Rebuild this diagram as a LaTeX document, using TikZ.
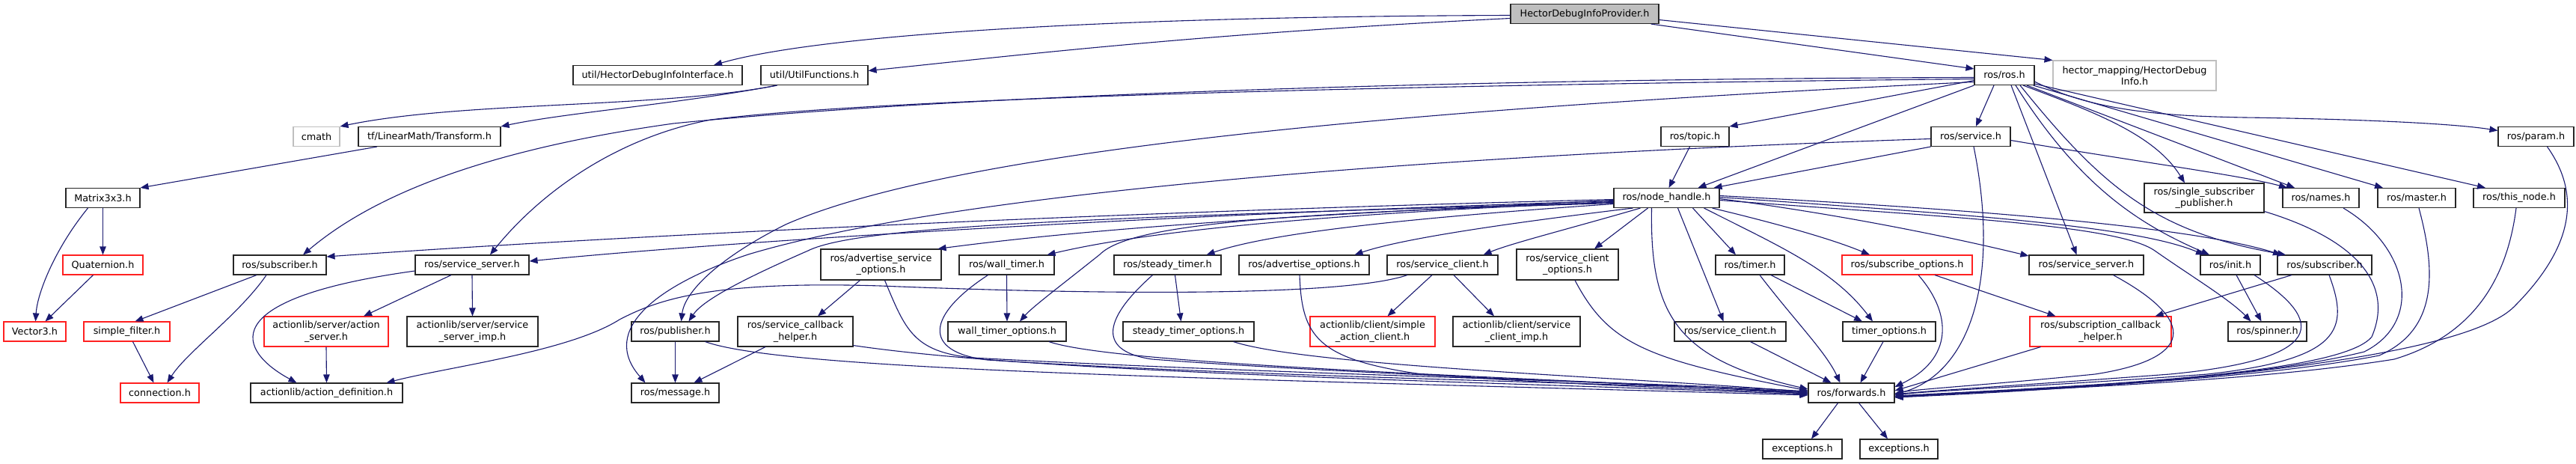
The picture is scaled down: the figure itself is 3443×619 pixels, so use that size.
\documentclass[tikz,border=0pt]{standalone}
\usepackage{fontspec}
\setmainfont{DejaVu Sans}
\usetikzlibrary{arrows.meta}
\definecolor{edgec}{HTML}{191970}
\definecolor{grayb}{HTML}{BFBFBF}
\definecolor{redb}{HTML}{FF2020}
\newcommand{\dfont}{\fontsize{12.8}{15.3}\selectfont}
\begin{document}
\begin{tikzpicture}[x=1pt,y=-1pt,
 box/.style={draw=black!85, line width=1.1pt, fill=white, rectangle, inner sep=0pt, minimum height=26pt, align=center, font=\dfont},
 box2/.style={box, minimum height=40pt},
 redbox/.style={draw=redb},
 graybox/.style={draw=grayb},
 edge/.style={draw=edgec, line width=1.1pt, -{Triangle[length=11pt,width=8.5pt]}}]
\useasboundingbox[fill=white] (0,0) rectangle (3443,619);

% row 0
\node[box, fill=grayb, minimum width=198pt] (top) at (2118,18.5) {HectorDebugInfoProvider.h};
% row 1
\node[box, minimum width=226pt] (hdi) at (879,100.5) {util/HectorDebugInfoInterface.h};
\node[box, minimum width=143pt] (uf) at (1088.5,100.5) {util/UtilFunctions.h};
\node[box, minimum width=80pt] (ros) at (2679,100.5) {ros/ros.h};
\node[box2, graybox, minimum width=218pt] (hm) at (2853,101) {hector\_mapping/HectorDebug\\Info.h};
% row 2
\node[box, graybox, minimum width=62pt] (cmath) at (423,182.5) {cmath};
\node[box, minimum width=190pt] (tf) at (574,182.5) {tf/LinearMath/Transform.h};
\node[box, minimum width=91pt] (topic) at (2265.5,182.5) {ros/topic.h};
\node[box, minimum width=106pt] (service) at (2634,182.5) {ros/service.h};
\node[box, minimum width=101pt] (param) at (3389.5,182.5) {ros/param.h};
% row 3
\node[box, minimum width=99pt] (m33) at (137.5,264.5) {Matrix3x3.h};
\node[box, minimum width=141pt] (nh) at (2227.5,264.5) {ros/node\_handle.h};
\node[box2, minimum width=160pt, minimum height=39pt] (ssp) at (2946,264.5) {ros/single\_subscriber\\\_publisher.h};
\node[box, minimum width=102pt] (names) at (3102,264.5) {ros/names.h};
\node[box, minimum width=104pt] (master) at (3230,264.5) {ros/master.h};
\node[box, minimum width=122pt] (thisnode) at (3367,264.5) {ros/this\_node.h};
% row 4
\node[box, redbox, minimum width=107pt] (quat) at (137.5,354) {Quaternion.h};
\node[box, minimum width=124pt] (subL) at (374,354) {ros/subscriber.h};
\node[box, minimum width=152pt] (ssL) at (631,354) {ros/service\_server.h};
\node[box2, minimum width=161pt, minimum height=41pt] (aso) at (1177.5,353.5) {ros/advertise\_service\\\_options.h};
\node[box, minimum width=127pt] (wt) at (1345.5,354) {ros/wall\_timer.h};
\node[box, minimum width=143pt] (st) at (1560.5,354) {ros/steady\_timer.h};
\node[box, minimum width=174pt] (ao) at (1743,354) {ros/advertise\_options.h};
\node[box, minimum width=148pt] (sc) at (1928,354) {ros/service\_client.h};
\node[box2, minimum width=136pt, minimum height=41pt] (sco) at (2095,353.5) {ros/service\_client\\\_options.h};
\node[box, minimum width=92pt] (timer) at (2339,354) {ros/timer.h};
\node[box, redbox, minimum width=174pt] (so) at (2549,354) {ros/subscribe\_options.h};
\node[box, minimum width=153pt] (ssR) at (2788.5,354) {ros/service\_server.h};
\node[box, minimum width=80pt] (init) at (2981,354) {ros/init.h};
\node[box, minimum width=126pt] (subR) at (3107,354) {ros/subscriber.h};
% row 5
\node[box, redbox, minimum width=83pt] (v3) at (46.5,443) {Vector3.h};
\node[box, redbox, minimum width=115pt] (sf) at (169.5,443) {simple\_filter.h};
\node[box2, redbox, minimum width=166pt] (asrv) at (436,443) {actionlib/server/action\\\_server.h};
\node[box2, minimum width=175pt] (assi) at (631.5,443) {actionlib/server/service\\\_server\_imp.h};
\node[box, minimum width=117pt] (pub) at (902.5,443) {ros/publisher.h};
\node[box2, minimum width=154pt] (sch) at (1063,443) {ros/service\_callback\\\_helper.h};
\node[box, minimum width=158pt] (wto) at (1346,443) {wall\_timer\_options.h};
\node[box, minimum width=175pt] (sto) at (1588.5,443) {steady\_timer\_options.h};
\node[box2, redbox, minimum width=167pt] (sac) at (1834.5,443) {actionlib/client/simple\\\_action\_client.h};
\node[box2, minimum width=170pt] (aci) at (2027,443) {actionlib/client/service\\\_client\_imp.h};
\node[box, minimum width=149pt] (sc2) at (2312.5,443) {ros/service\_client.h};
\node[box, minimum width=124pt] (to) at (2525,443) {timer\_options.h};
\node[box2, redbox, minimum width=189pt] (sch2) at (2807.5,443) {ros/subscription\_callback\\\_helper.h};
\node[box, minimum width=105pt] (spin) at (3030.5,443) {ros/spinner.h};
% row 6
\node[box, redbox, minimum width=105pt] (conn) at (213.5,525) {connection.h};
\node[box, minimum width=203pt] (adef) at (436.5,525) {actionlib/action\_definition.h};
\node[box, minimum width=117pt] (msg) at (902.5,525) {ros/message.h};
\node[box, minimum width=115pt] (fwd) at (2474.5,525) {ros/forwards.h};
% row 7
\node[box, minimum width=106pt] (ex1) at (2409,600) {exceptions.h};
\node[box, minimum width=104pt] (ex2) at (2538,600) {exceptions.h};

% ---- edges from top
\draw[edge] ([yshift=-2pt]top.west) .. controls (1500,22) and (1100,45) .. ([xshift=75pt]hdi.north);
\draw[edge] ([yshift=-6pt]top.west) .. controls (1600,45) and (1350,75) .. ([yshift=6pt]uf.east);
\draw[edge] ([xshift=-11pt]top.south east) -- ([yshift=-5pt]ros.north west);
\draw[edge] ([yshift=-8pt]top.east) -- (hm.north west);
% util
\draw[edge] ([xshift=-50pt]uf.south) .. controls (880,145) and (620,135) .. (cmath.north east);
\draw[edge] ([xshift=-50pt]uf.south) .. controls (900,140) and (760,150) .. (tf.north east);
\draw[edge] ([xshift=-70pt]tf.south) -- (m33.north east);
\draw[edge] ([xshift=-20pt]m33.south) .. controls (75,330) and (50,390) .. ([xshift=1pt]v3.north);
\draw[edge] (m33.south) -- (quat.north);
\draw[edge] ([xshift=-13pt]quat.south) -- ([xshift=14pt]v3.north);
% ros/ros.h
\draw[edge] ([yshift=-7pt]ros.west) -- (topic.north east);
\draw[edge] (ros.south west) -- ([xshift=42pt]nh.north);
\draw[edge] ([xshift=-14pt]ros.south) -- ([xshift=7pt]service.north);
\draw[edge] ([yshift=-3pt]ros.west) .. controls (2000,105) and (1300,125) .. (900,165) .. controls (650,200) and (500,260) .. ([xshift=31pt]subL.north);
\draw[edge] ([yshift=-5pt]ros.west) .. controls (2000,112) and (1200,128) .. (950,160) .. controls (820,185) and (720,260) .. ([xshift=24pt]ssL.north);
\draw[edge] ([yshift=-9pt]ros.west) .. controls (2000,140) and (1300,190) .. (1050,300) .. controls (960,345) and (915,390) .. ([xshift=8pt]pub.north);
\draw[edge] ([xshift=9pt]ros.south) -- ([xshift=-13pt]ssR.north);
\draw[edge] ([xshift=15pt]ros.south) .. controls (2780,250) and (2860,300) .. ([xshift=-28pt]init.north);
\draw[edge] ([xshift=21pt]ros.south) .. controls (2810,250) and (2880,310) .. ([xshift=-52pt]subR.north);
\draw[edge] ([xshift=25pt]ros.south) .. controls (2800,150) and (2880,180) .. ([xshift=-26pt]ssp.north);
\draw[edge] ([xshift=30pt]ros.south) -- ([xshift=-35pt]names.north);
\draw[edge] ([xshift=-2pt]ros.south east) -- ([xshift=-45pt]master.north);
\draw[edge] ([yshift=2pt]ros.south east) -- ([xshift=-45pt]thisnode.north);
\draw[edge] ([yshift=5pt]ros.south east) .. controls (2800,150) and (2900,155) .. (3000,157) .. controls (3150,159) and (3280,165) .. ([yshift=8pt]param.west);
% ros/service.h
\draw[edge] (service.south west) -- ([xshift=-8pt]nh.north east);
\draw[edge] ([yshift=-5pt]service.east) .. controls (2850,215) and (3000,235) .. ([xshift=-45pt]names.north);
\draw[edge] ([yshift=-3pt]service.west) .. controls (2000,205) and (1300,250) .. (1000,340) .. controls (880,380) and (800,440) .. ([xshift=-40pt]msg.north);
\draw[edge] ([xshift=4pt]service.south) .. controls (2675,380) and (2630,500) .. ([yshift=-2pt]fwd.east);
\draw[edge] ([xshift=-7pt]topic.south) -- ([xshift=3pt]nh.north);
% ros/node_handle.h to the left
\draw[edge] ([yshift=-2pt]nh.west) .. controls (1600,280) and (900,310) .. ([yshift=11pt]subL.east);
\draw[edge] ([yshift=-4pt]nh.west) .. controls (1600,285) and (1000,320) .. ([yshift=5pt]ssL.east);
\draw[edge] ([yshift=-6pt]nh.west) .. controls (1500,290) and (1150,300) .. (1080,335) .. controls (1000,370) and (940,400) .. ([xshift=18pt]pub.north);
\draw[edge] ([yshift=-3pt]nh.west) .. controls (1800,285) and (1500,300) .. ([xshift=-5pt]aso.north east);
\draw[edge] ([yshift=-5pt]nh.west) .. controls (1800,285) and (1550,305) .. ([xshift=-10pt]wt.north east);
\draw[edge] ([yshift=-7pt]nh.west) .. controls (1700,285) and (1510,300) .. (1470,340) .. controls (1420,380) and (1380,410) .. ([xshift=17pt]wto.north);
\draw[edge] ([yshift=-8pt]nh.west) .. controls (1900,290) and (1700,310) .. ([xshift=-20pt]st.north east);
\draw[edge] ([xshift=-45pt]nh.south) .. controls (2000,300) and (1870,320) .. ([xshift=-20pt]ao.north east);
\draw[edge] ([xshift=-35pt]nh.south) .. controls (2100,305) and (2020,325) .. ([xshift=-20pt]sc.north east);
\draw[edge] ([xshift=-25pt]nh.south) -- ([xshift=36pt]sco.north);
% ros/node_handle.h downward/right
\draw[edge] ([xshift=35pt]nh.south) -- ([xshift=-19pt]timer.north);
\draw[edge] ([xshift=15pt]nh.south) -- ([xshift=-9pt]sc2.north);
\draw[edge] ([xshift=50pt]nh.south) .. controls (2380,330) and (2450,360) .. ([xshift=-22pt]to.north);
\draw[edge] ([xshift=-10pt]nh.south east) .. controls (2380,300) and (2450,320) .. ([xshift=-50pt]so.north);
\draw[edge] ([yshift=-1pt]nh.east) .. controls (2450,285) and (2600,315) .. ([yshift=12pt]ssR.west);
\draw[edge] ([yshift=1pt]nh.east) .. controls (2600,285) and (2850,300) .. ([xshift=-35pt]init.north);
\draw[edge] ([yshift=3pt]nh.east) .. controls (2600,278) and (2920,300) .. ([xshift=-58pt]subR.north);
\draw[edge] ([yshift=-3pt]nh.east) .. controls (2600,290) and (2830,300) .. (2880,335) .. controls (2930,370) and (2980,400) .. ([xshift=-22pt]spin.north);
\draw[edge] ([xshift=-20pt]nh.south) .. controls (2205,420) and (2240,480) .. ([yshift=5pt]fwd.west);
% left cluster
\draw[edge] ([xshift=-31pt]subL.south) -- ([xshift=11pt]sf.north);
\draw[edge] ([xshift=-18pt]subL.south) .. controls (320,420) and (250,470) .. ([xshift=10pt]conn.north);
\draw[edge] ([xshift=8pt]sf.south) -- ([xshift=-8pt]conn.north);
\draw[edge] ([xshift=-28pt]ssL.south) -- ([xshift=50pt]asrv.north);
\draw[edge] (ssL.south) -- (assi.north);
\draw[edge] ([yshift=-8pt]ssL.west) .. controls (280,400) and (320,470) .. ([xshift=-40pt]adef.north);
\draw[edge] (asrv.south) -- (adef.north);
\draw[edge] ([xshift=-47pt]sc.south) .. controls (1800,395) and (1500,395) .. (1177,382) .. controls (950,375) and (880,400) .. (828,427) .. controls (760,470) and (600,490) .. ([xshift=80pt]adef.north);
\draw[edge] ([xshift=-14pt]sc.south) -- ([xshift=20pt]sac.north);
\draw[edge] ([xshift=15pt]sc.south) -- ([xshift=-30pt]aci.north);
\draw[edge] ([xshift=-28pt]aso.south) -- ([xshift=30pt]sch.north);
\draw[edge] (pub.south) -- (msg.north);
\draw[edge] ([xshift=-40pt]sch.south) -- ([xshift=25pt]msg.north);
\draw[edge] (wt.south) -- (wto.north);
\draw[edge] ([xshift=10pt]st.south) -- ([xshift=-10pt]sto.north);
% into forwards from the left
\draw[edge] ([xshift=5pt]aso.south) .. controls (1210,440) and (1220,470) .. (1300,478) .. controls (1700,500) and (2200,510) .. ([yshift=2pt]fwd.west);
\draw[edge] ([xshift=-25pt]wt.south) .. controls (1240,420) and (1230,470) .. (1320,481) .. controls (1700,505) and (2200,512) .. ([yshift=1pt]fwd.west);
\draw[edge] ([xshift=-20pt]st.south) .. controls (1470,430) and (1470,470) .. (1540,480) .. controls (1800,500) and (2200,512) .. ([yshift=0pt]fwd.west);
\draw[edge] ([xshift=-6pt]ao.south) .. controls (1740,450) and (1760,480) .. (1900,500) .. controls (2100,515) and (2300,520) .. ([yshift=-1pt]fwd.west);
\draw[edge] ([xshift=10pt]sco.south) .. controls (2150,460) and (2200,480) .. ([yshift=3pt]fwd.west);
\draw[edge] ([xshift=40pt]pub.south) .. controls (1050,495) and (1600,505) .. ([yshift=-3pt]fwd.west);
\draw[edge] ([yshift=2pt]sch.south east) .. controls (1400,500) and (2000,510) .. ([yshift=-2pt]fwd.west);
\draw[edge] ([xshift=56pt]wto.south) .. controls (1500,490) and (2100,505) .. ([yshift=-1pt]fwd.west);
\draw[edge] ([xshift=60pt]sto.south) .. controls (1750,490) and (2200,505) .. ([yshift=1pt]fwd.west);
% lower middle
\draw[edge] ([xshift=28pt]timer.south) -- ([xshift=-36pt]to.north);
\draw[edge] ([xshift=13pt]timer.south) .. controls (2400,430) and (2440,470) .. ([xshift=-15pt]fwd.north);
\draw[edge] ([xshift=27pt]sc2.south) -- ([xshift=-27pt]fwd.north);
\draw[edge] ([xshift=-8pt]to.south) -- ([xshift=12pt]fwd.north);
\draw[edge] ([xshift=37pt]so.south) -- ([xshift=-60pt]sch2.north);
\draw[edge] ([xshift=15pt]so.south) .. controls (2610,420) and (2610,480) .. ([yshift=8pt]fwd.east);
\draw[edge] ([xshift=36pt]ssR.south) .. controls (2940,430) and (2930,480) .. (2800,500) .. controls (2650,515) and (2560,520) .. ([yshift=-1pt]fwd.east);
\draw[edge] ([xshift=8pt]init.south) -- ([xshift=-8pt]spin.north);
\draw[edge] ([xshift=32pt]init.south) .. controls (3110,430) and (3110,480) .. (2900,500) .. controls (2700,515) and (2580,522) .. ([yshift=-2pt]fwd.east);
\draw[edge] ([xshift=-44pt]subR.south) -- ([xshift=73pt]sch2.north);
\draw[edge] ([xshift=6pt]subR.south) .. controls (3140,440) and (3130,480) .. (2950,500) .. controls (2750,515) and (2580,522) .. ([yshift=-3pt]fwd.east);
\draw[edge] ([xshift=-80pt]sch2.south) -- ([yshift=3pt]fwd.east);
% right column into forwards
\draw[edge] ([yshift=2pt]ssp.south east) .. controls (3150,320) and (3200,380) .. (3170,450) .. controls (3130,500) and (2800,515) .. ([yshift=-4pt]fwd.east);
\draw[edge] ([xshift=30pt]names.south) .. controls (3220,330) and (3240,430) .. (3160,470) .. controls (3000,510) and (2700,520) .. ([yshift=-5pt]fwd.east);
\draw[edge] ([xshift=3pt]master.south) .. controls (3255,360) and (3260,440) .. (3180,475) .. controls (3000,510) and (2700,520) .. ([yshift=-5pt]fwd.east);
\draw[edge] ([xshift=-4pt]thisnode.south) .. controls (3350,380) and (3300,450) .. (3200,480) .. controls (3000,512) and (2700,520) .. ([yshift=-6pt]fwd.east);
\draw[edge] ([xshift=15pt]param.south) .. controls (3450,260) and (3440,330) .. (3360,410) .. controls (3300,470) and (3000,510) .. ([yshift=-6pt]fwd.east);
% forwards to exceptions
\draw[edge] ([xshift=-18pt]fwd.south) -- ([xshift=12pt]ex1.north);
\draw[edge] ([xshift=10pt]fwd.south) -- ([xshift=-15pt]ex2.north);
\end{tikzpicture}
\end{document}
